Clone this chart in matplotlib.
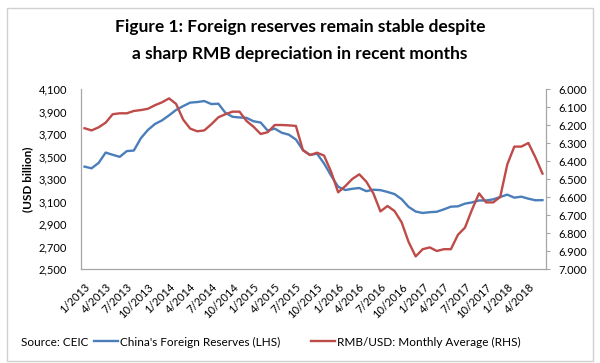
import matplotlib
matplotlib.use("Agg")
import matplotlib.pyplot as plt
from matplotlib.patches import Rectangle
from matplotlib.ticker import FuncFormatter, FixedLocator

plt.rcParams['font.family'] = ['Lato', 'DejaVu Sans']

# monthly, 1/2013 .. 6/2018
months = [f"{m}/{y}" for y in range(2013, 2019) for m in range(1, 13)][:66]

reserves = [3410, 3395, 3443, 3535, 3515, 3497, 3548, 3553, 3663, 3736, 3789, 3821,
            3866, 3914, 3948, 3979, 3984, 3993, 3966, 3969, 3888, 3853, 3847, 3843,
            3813, 3802, 3730, 3748, 3711, 3694, 3651, 3557, 3514, 3525, 3438, 3330,
            3231, 3202, 3213, 3220, 3192, 3205, 3201, 3185, 3166, 3121, 3052, 3011,
            2998, 3005, 3009, 3030, 3054, 3057, 3081, 3092, 3109, 3109, 3119, 3140,
            3161, 3134, 3143, 3125, 3111, 3112]

rmb = [6.218, 6.230, 6.213, 6.187, 6.140, 6.135, 6.135, 6.122, 6.117, 6.110, 6.090, 6.074,
       6.052, 6.083, 6.170, 6.220, 6.235, 6.230, 6.196, 6.157, 6.140, 6.126, 6.126, 6.178,
       6.210, 6.250, 6.240, 6.200, 6.200, 6.202, 6.205, 6.340, 6.367, 6.354, 6.370, 6.460,
       6.574, 6.540, 6.500, 6.474, 6.515, 6.580, 6.680, 6.650, 6.678, 6.740, 6.850, 6.930,
       6.890, 6.880, 6.900, 6.890, 6.890, 6.810, 6.770, 6.670, 6.580, 6.630, 6.630, 6.600,
       6.420, 6.320, 6.320, 6.300, 6.380, 6.470]

left_ticks = list(range(2500, 4101, 200))
right_ticks = [6.0 + 0.1 * k for k in range(11)]

blue = '#4a7ebb'
red = '#be4b48'
grey = '#a6a6a6'

fig = plt.figure(figsize=(6, 3.63), dpi=100)
ax = fig.add_axes([81/600, 1 - 269/363, 465/600, 180/363])
ax2 = ax.twinx()

x = list(range(len(months)))
l1, = ax.plot(x, reserves, color=blue, lw=1.7, label="China's Foreign Reserves (LHS)")
l2, = ax2.plot(x, rmb, color=red, lw=1.7, label="RMB/USD: Monthly Average (RHS)")

ax.set_xlim(-0.5, len(months) - 0.5)
ax.set_ylim(2500, 4100)
ax.set_yticks(left_ticks)
ax.yaxis.set_major_formatter(FuncFormatter(lambda v, p: f"{int(v):,}"))
ax2.set_ylim(7.0, 6.0)
ax2.set_yticks(right_ticks)
ax2.yaxis.set_major_formatter(FuncFormatter(lambda v, p: f"{v:.3f}"))

ax.xaxis.set_major_locator(FixedLocator(x[::3]))
ax.set_xticklabels(months[::3], rotation=45, ha='right', va='top',
                   rotation_mode='anchor', fontsize=8)
ax.tick_params(axis='x', length=0, pad=9)
ax.tick_params(axis='y', length=0, labelsize=8, pad=10)
ax2.tick_params(axis='y', length=3, color=grey, labelsize=8, pad=6)

for a in (ax, ax2):
    a.spines['top'].set_visible(False)
    for s in ('left', 'right', 'bottom'):
        a.spines[s].set_color(grey)
        a.spines[s].set_linewidth(0.9)
ax.spines['right'].set_visible(False)
ax2.spines['left'].set_visible(False)
ax2.spines['bottom'].set_visible(False)

ax.set_ylabel('(USD billion)', fontsize=8.5, fontweight='bold', labelpad=4)

fig.text(0.5, 1 - 27/363, 'Figure 1: Foreign reserves remain stable despite',
         ha='center', va='center', fontsize=12.5, fontweight='bold')
fig.text(0.5, 1 - 54/363, 'a sharp RMB depreciation in recent months',
         ha='center', va='center', fontsize=12.5, fontweight='bold')

fig.text(21/600, 1 - 342/363, 'Source: CEIC', ha='left', va='center', fontsize=8.5)
fig.legend(handles=[l1, l2], loc='center left', bbox_to_anchor=(94/600, 1 - 342/363),
           ncol=2, frameon=False, fontsize=8.5, handlelength=2.0, handletextpad=0.2,
           columnspacing=2.6, borderpad=0, borderaxespad=0)

fig.patches.append(Rectangle((7/600, 1 - 361/363), 586/600, 353/363,
                             transform=fig.transFigure, fill=False,
                             edgecolor='#d0d0d0', lw=1))

fig.savefig('out.png', dpi=100)
